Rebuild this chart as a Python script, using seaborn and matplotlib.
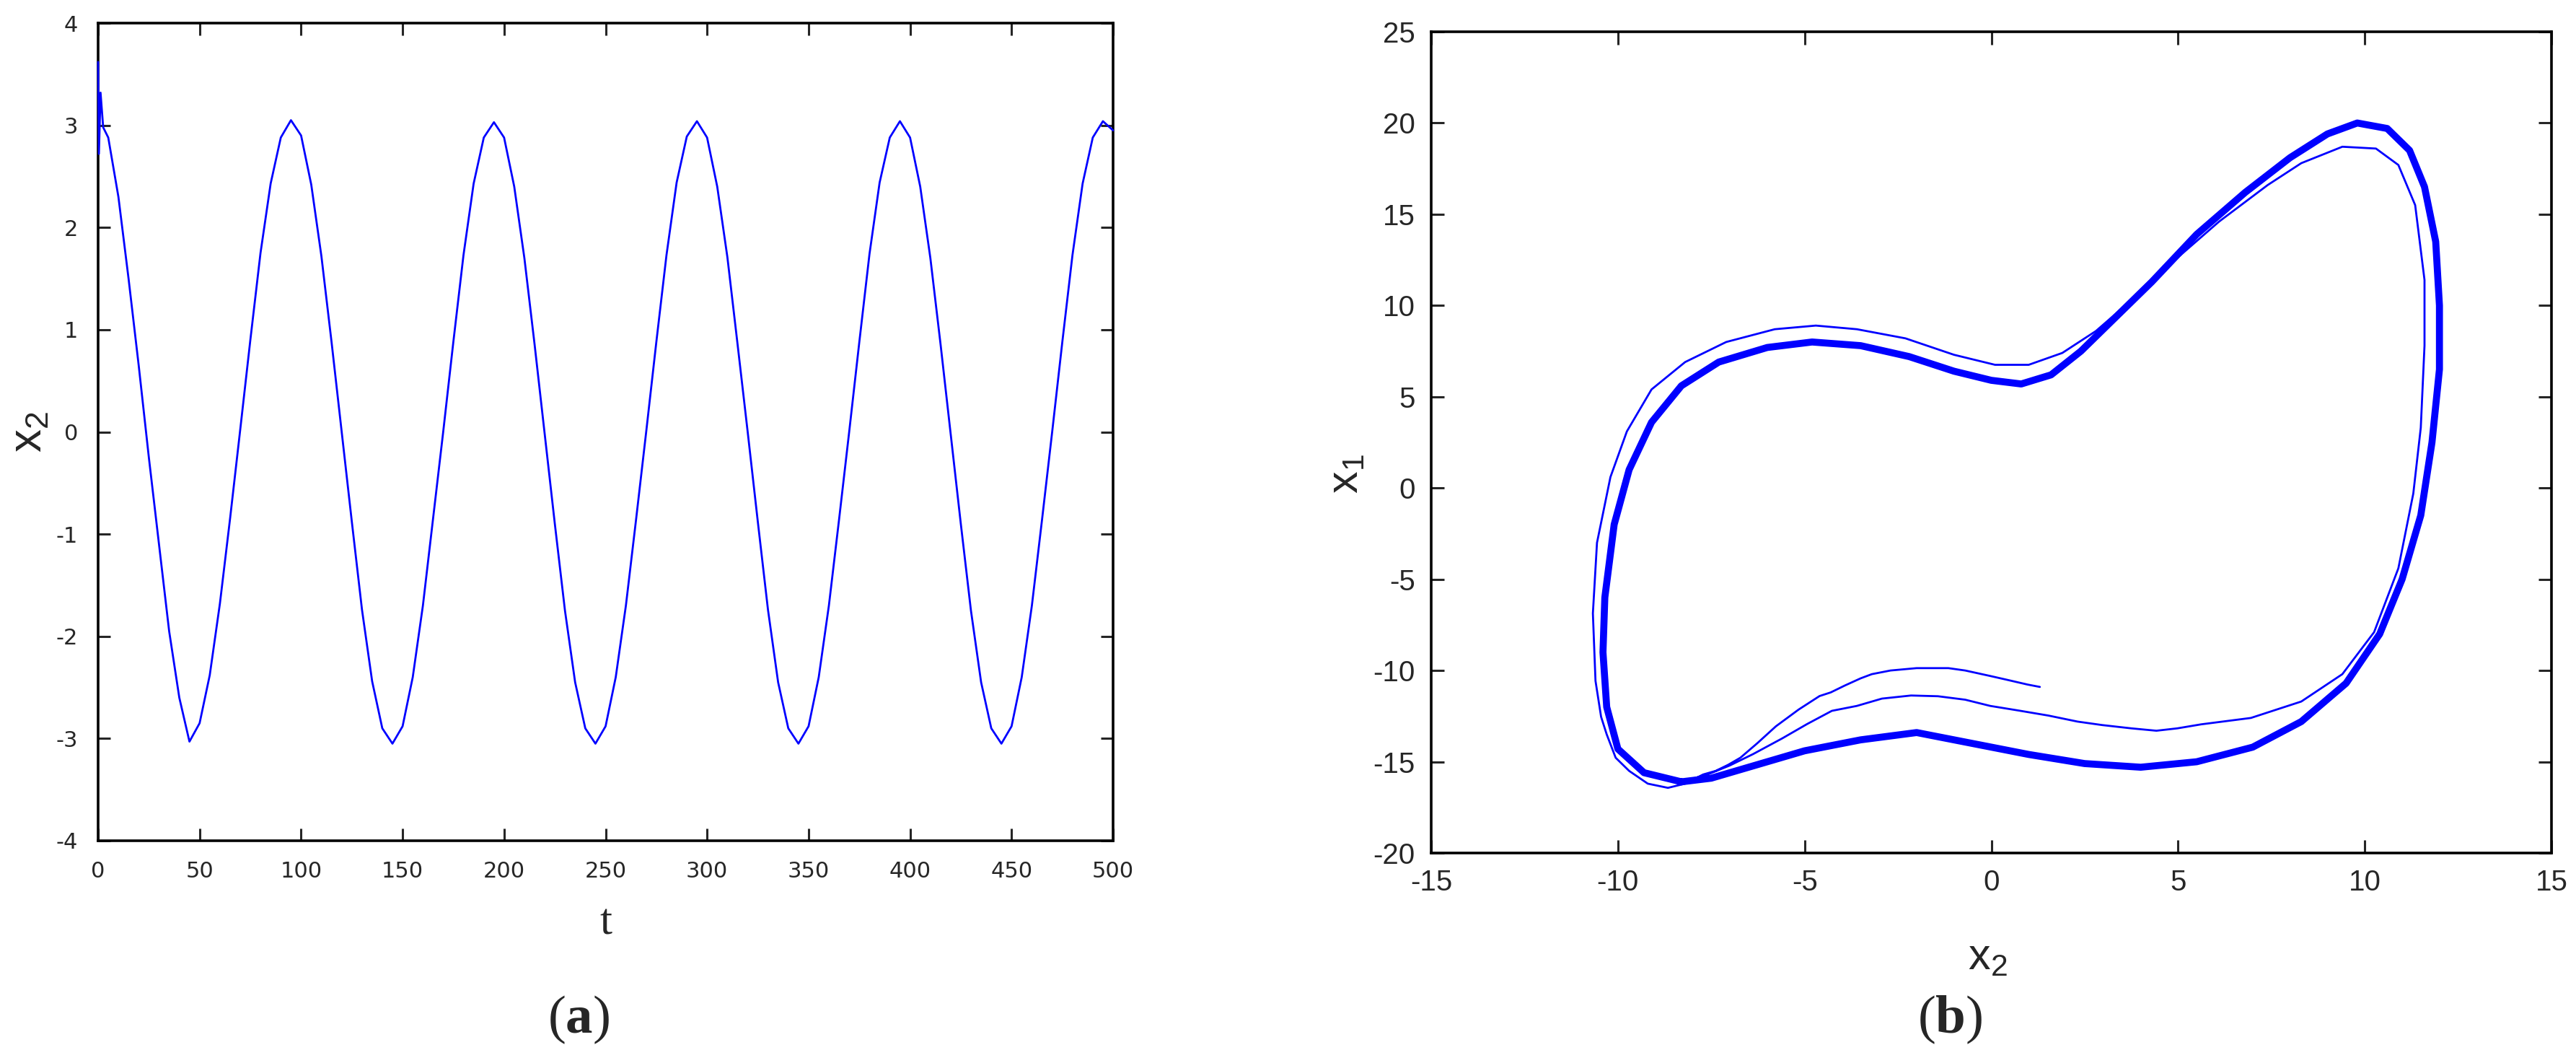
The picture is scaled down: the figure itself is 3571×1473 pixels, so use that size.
import matplotlib
matplotlib.use("Agg")
import matplotlib.pyplot as plt
import seaborn as sns
import pandas as pd

# ---------------- data ----------------
# panel (a): x2 versus t
t_vals = [0, 0.4, 1.2, 2.5,
          5, 10, 15, 20, 25, 30, 35, 40, 45, 50,
          55, 60, 65, 70, 75, 80, 85, 90, 95, 100,
          105, 110, 115, 120, 125, 130, 135, 140, 145, 150,
          155, 160, 165, 170, 175, 180, 185, 190, 195, 200,
          205, 210, 215, 220, 225, 230, 235, 240, 245, 250,
          255, 260, 265, 270, 275, 280, 285, 290, 295, 300,
          305, 310, 315, 320, 325, 330, 335, 340, 345, 350,
          355, 360, 365, 370, 375, 380, 385, 390, 395, 400,
          405, 410, 415, 420, 425, 430, 435, 440, 445, 450,
          455, 460, 465, 470, 475, 480, 485, 490, 495, 500]
x2_t = [3.62, 2.72, 3.32, 2.98,
        2.88, 2.30, 1.50, 0.65, -0.25, -1.10, -1.95, -2.60, -3.03, -2.85,
        -2.38, -1.68, -0.85, 0.02, 0.90, 1.75, 2.43, 2.88, 3.05, 2.90,
        2.42, 1.72, 0.88, 0.00, -0.88, -1.74, -2.44, -2.90, -3.05, -2.88,
        -2.40, -1.70, -0.85, 0.00, 0.88, 1.73, 2.43, 2.88, 3.03, 2.88,
        2.40, 1.70, 0.86, -0.02, -0.90, -1.75, -2.45, -2.90, -3.05, -2.88,
        -2.40, -1.70, -0.86, 0.00, 0.88, 1.73, 2.44, 2.89, 3.04, 2.88,
        2.40, 1.71, 0.86, 0.00, -0.88, -1.74, -2.45, -2.90, -3.05, -2.88,
        -2.40, -1.70, -0.86, 0.00, 0.88, 1.74, 2.44, 2.88, 3.04, 2.88,
        2.40, 1.70, 0.86, -0.02, -0.90, -1.75, -2.45, -2.90, -3.05, -2.88,
        -2.40, -1.70, -0.86, 0.00, 0.88, 1.73, 2.43, 2.88, 3.04, 2.95]

# panel (b): phase portrait x1 versus x2 -- transient (thin) part
trans_x2 = [1.30, 0.97, 0.40, -0.03, -0.70, -1.15, -2.00, -2.70, -3.20, -3.50,
            -3.93, -4.30, -4.60, -5.16, -5.77, -6.27, -6.72, -7.05, -7.38, -7.72,
            -8.20, -8.66, -9.20, -9.70, -10.06, -10.30, -10.45, -10.60, -10.67, -10.56,
            -10.20, -9.76, -9.10, -8.20, -7.10, -5.80, -4.70, -3.60, -2.30, -1.00,
            0.10, 1.00, 1.90, 2.80, 3.70, 4.75, 6.10, 7.40, 8.30, 9.40,
            10.30, 10.90, 11.35, 11.60, 11.60, 11.50, 11.30, 10.90, 10.25, 9.40,
            8.30, 6.95, 5.62, 4.98, 4.42, 3.75, 2.97, 2.31, 1.53, 0.75,
            -0.03, -0.70, -1.43, -2.15, -2.93, -3.60, -4.27, -4.93, -5.60, -6.38,
            -7.00, -7.60, -8.30]
trans_x1 = [-10.90, -10.77, -10.50, -10.30, -10.00, -9.87, -9.87, -10.00, -10.20, -10.43,
            -10.83, -11.20, -11.40, -12.14, -13.06, -13.99, -14.78, -15.17, -15.50, -15.70,
            -16.20, -16.43, -16.20, -15.50, -14.78, -13.50, -12.54, -10.57, -6.87, -3.00,
            0.60, 3.10, 5.40, 6.90, 8.00, 8.70, 8.90, 8.70, 8.20, 7.30,
            6.75, 6.75, 7.40, 8.60, 10.20, 12.20, 14.60, 16.60, 17.80, 18.70,
            18.60, 17.70, 15.50, 11.40, 7.80, 3.30, -0.30, -4.40, -7.90, -10.20,
            -11.70, -12.60, -12.95, -13.17, -13.30, -13.17, -12.99, -12.80, -12.47, -12.20,
            -11.94, -11.60, -11.41, -11.37, -11.54, -11.94, -12.21, -12.93, -13.72, -14.58,
            -15.20, -15.70, -16.10]

# panel (b): limit cycle (thick part)
cyc_x2 = [-8.3, -9.3, -10.0, -10.3, -10.4, -10.35, -10.1, -9.7, -9.1, -8.3,
          -7.3, -6.0, -4.8, -3.5, -2.2, -1.0, 0.0, 0.8, 1.6, 2.4,
          3.3, 4.3, 5.5, 6.8, 8.0, 9.0, 9.8, 10.6, 11.2, 11.6,
          11.9, 12.0, 12.0, 11.8, 11.5, 11.0, 10.4, 9.5, 8.3, 7.0,
          5.5, 4.0, 2.5, 1.0, -0.5, -2.0, -3.5, -5.0, -6.5, -7.5, -8.3]
cyc_x1 = [-16.1, -15.6, -14.3, -12.0, -9.0, -6.0, -2.0, 1.0, 3.6, 5.6,
          6.9, 7.7, 8.0, 7.8, 7.2, 6.4, 5.9, 5.7, 6.2, 7.5,
          9.3, 11.3, 13.9, 16.2, 18.1, 19.4, 20.0, 19.7, 18.5, 16.5,
          13.5, 10.0, 6.5, 2.5, -1.5, -5.0, -8.0, -10.7, -12.8, -14.2,
          -15.0, -15.3, -15.1, -14.6, -14.0, -13.4, -13.8, -14.4, -15.3, -15.9, -16.1]

xticks_a = list(range(0, 501, 50))
yticks_a = list(range(-4, 5, 1))
xticks_b = list(range(-15, 16, 5))
yticks_b = list(range(-20, 26, 5))

# ---------------- styling ----------------
sns.set_style("ticks")
plt.rcParams['font.family'] = ['Liberation Sans', 'DejaVu Sans']
plt.rcParams['mathtext.fontset'] = 'custom'
plt.rcParams['mathtext.rm'] = 'Liberation Sans'
plt.rcParams['mathtext.bf'] = 'Liberation Serif:bold'

BLUE = '#0000ff'
W, H = 3571, 1473
fig = plt.figure(figsize=(W / 100, H / 100), dpi=100)
fig.patch.set_facecolor('white')

axA = fig.add_axes([136 / W, 1 - 1165 / H, 1407 / W, 1133 / H])
axB = fig.add_axes([1984 / W, 1 - 1182 / H, 1553 / W, 1138 / H])

# panel (a)
dfa = pd.DataFrame({'t': t_vals, 'x2': x2_t})
sns.lineplot(data=dfa, x='t', y='x2', sort=False, estimator=None,
             color=BLUE, lw=2.0, ax=axA, zorder=3, clip_on=False)
axA.set_xlim(0, 500)
axA.set_ylim(-4, 4)
axA.set_xticks(xticks_a)
axA.set_yticks(yticks_a)
axA.set_xticklabels([str(v) for v in xticks_a], fontsize=22, family='DejaVu Sans')
axA.set_yticklabels([str(v) for v in yticks_a], fontsize=22, family='DejaVu Sans')
axA.tick_params(direction='in', top=True, right=True, length=12, width=2.2, pad=20)
axA.set_xlabel('t', fontsize=44, family='Liberation Serif', va='center')
axA.xaxis.set_label_coords(0.5, -0.101)
axA.set_ylabel(r'$\mathregular{x_2}$', fontsize=46, va='center')
axA.yaxis.set_label_coords(-0.0675, 0.5)

# panel (b)
dft = pd.DataFrame({'x2': trans_x2, 'x1': trans_x1})
dfc = pd.DataFrame({'x2': cyc_x2, 'x1': cyc_x1})
sns.lineplot(data=dft, x='x2', y='x1', sort=False, estimator=None,
             color=BLUE, lw=2.0, ax=axB)
sns.lineplot(data=dfc, x='x2', y='x1', sort=False, estimator=None,
             color=BLUE, lw=7.0, ax=axB, solid_joinstyle='round')
axB.set_xlim(-15, 15)
axB.set_ylim(-20, 25)
axB.set_xticks(xticks_b)
axB.set_yticks(yticks_b)
axB.set_xticklabels([str(v) for v in xticks_b], fontsize=29)
axB.set_yticklabels([str(v) for v in yticks_b], fontsize=29)
axB.tick_params(direction='in', top=True, right=True, length=13, width=2.2, pad=16)
axB.set_xlabel(r'$\mathregular{x_2}$', fontsize=44, va='center')
axB.xaxis.set_label_coords(0.4965, -0.128)
axB.set_ylabel(r'$\mathregular{x_1}$', fontsize=44, va='center')
axB.yaxis.set_label_coords(-0.0753, 0.462)

for ax in (axA, axB):
    for s in ax.spines.values():
        s.set_visible(True)
        s.set_linewidth(2.6)
        s.set_color('black')
    ax.set_facecolor('white')

fig.text(802 / W, 1 - 1413 / H, r'($\mathbf{a}$)', fontsize=54, family='Liberation Serif',
         ha='center', va='center')
fig.text(2703 / W, 1 - 1413 / H, r'($\mathbf{b}$)', fontsize=54, family='Liberation Serif',
         ha='center', va='center')

fig.savefig('out.png', dpi=100, facecolor='white')
